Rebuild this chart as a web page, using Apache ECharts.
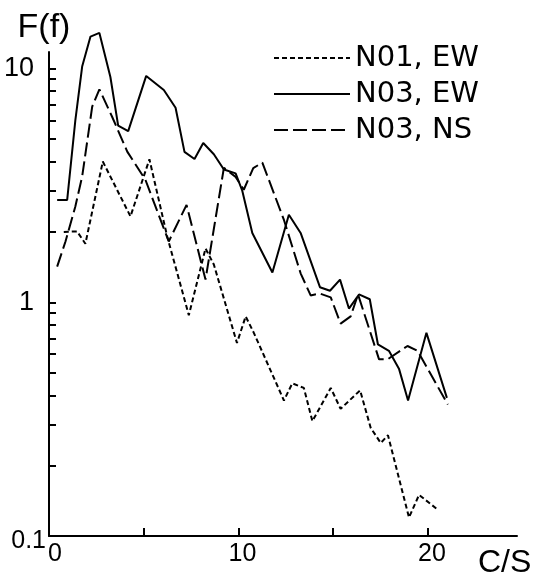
<!DOCTYPE html>
<html><head><meta charset="utf-8">
<script src="https://cdn.jsdelivr.net/npm/echarts@6/dist/echarts.min.js"></script>
<style>html,body{margin:0;padding:0;background:#fff}#c{width:539px;height:573px}</style>
</head><body><div id="c"></div>
<script>
const seriesNames = ['N01, EW', 'N03, EW', 'N03, NS'];
const xName = 'C/S';
const yName = 'F(f)';
const xTickLabels = [0, 10, 20];
const xTickMarks = [5, 10, 15, 20];
const yTickLabels = [0.1, 1, 10];
const yTickMarks = [0.2,0.3,0.4,0.5,0.6,0.7,0.8,0.9,1,2,3,4,5,6,7,8,9,10];

const n01EW = [[0.78,2.0],[1.48,2.01],[1.92,1.78],[2.84,4.0],[4.30,2.33],[5.30,4.09],[6.24,1.91],[7.38,0.88],[8.26,1.70],[8.70,1.45],[9.92,0.67],[10.38,0.87],[10.81,0.74],[12.40,0.38],[12.84,0.45],[13.45,0.43],[13.90,0.31],[14.87,0.43],[15.39,0.35],[16.42,0.42],[16.98,0.29],[17.51,0.25],[17.89,0.27],[19.0,0.12],[19.53,0.15],[20.5,0.13]];
const n03EW = [[0.43,2.74],[0.96,2.74],[1.39,6.0],[1.75,10.2],[2.19,13.7],[2.66,14.2],[3.24,9.2],[3.65,5.7],[4.18,5.4],[5.13,9.3],[6.06,8.1],[6.68,6.8],[7.15,4.4],[7.68,4.1],[8.14,4.8],[8.70,4.3],[9.23,3.7],[9.85,3.56],[10.2,3.0],[10.73,1.98],[11.79,1.34],[12.66,2.37],[13.28,1.98],[14.30,1.16],[14.83,1.12],[15.36,1.25],[15.83,0.94],[16.36,1.08],[16.93,1.03],[17.36,0.66],[17.94,0.62],[18.47,0.52],[18.95,0.38],[19.92,0.74],[21.0,0.39]];
const n03NS = [[0.43,1.42],[0.87,1.82],[1.39,2.57],[1.75,3.45],[2.28,6.87],[2.66,8.15],[3.33,6.22],[4.13,4.41],[5.09,3.34],[6.32,1.82],[7.26,2.61],[8.26,1.25],[9.23,3.76],[9.85,3.44],[10.28,3.03],[10.78,3.75],[11.26,3.96],[12.40,2.25],[13.28,1.33],[13.81,1.07],[14.30,1.09],[14.87,1.05],[15.39,0.81],[15.92,0.87],[16.31,1.08],[17.42,0.57],[17.87,0.57],[18.92,0.65],[19.45,0.62],[21.05,0.365]];

const chart = echarts.init(document.getElementById('c'), null, {renderer: 'canvas'});
const lineBase = {type: 'line', showSymbol: false, symbol: 'none', clip: false, silent: true};
chart.setOption({
  animation: false,
  backgroundColor: '#fff',
  textStyle: {fontFamily: 'Liberation Sans', color: '#000'},
  grid: {left: 49, right: 22, top: 52, bottom: 37, containLabel: false, outerBoundsMode: 'none'},
  legend: {
    orient: 'vertical', left: 268, top: 38,
    itemWidth: 76, itemHeight: 14, itemGap: 6,
    data: seriesNames,
    itemStyle: {opacity: 0, color: 'transparent', borderWidth: 0},
    textStyle: {fontFamily: 'DejaVu Sans', fontSize: 29, color: '#000', lineHeight: 30}
  },
  xAxis: {
    type: 'value', min: 0, max: 24.7,
    name: xName, nameLocation: 'end', nameGap: -39,
    nameTextStyle: {fontSize: 32, fontFamily: 'Liberation Sans', color: '#000', align: 'left', verticalAlign: 'top', padding: [11, 0, 0, 0]},
    axisLine: {lineStyle: {color: '#000', width: 2}},
    splitLine: {show: false},
    axisTick: {inside: true, length: 8, customValues: xTickMarks, lineStyle: {color: '#000', width: 2}},
    axisLabel: {
      customValues: xTickLabels, margin: 6, color: '#000', fontSize: 25,
      formatter: v => v === 0 ? '{z|0}' : '{a|' + v + '}',
      rich: {z: {fontSize: 25, padding: [0, 0, 0, 12]}, a: {fontSize: 25, padding: [0, 0, 0, 8]}}
    }
  },
  yAxis: {
    type: 'log', logBase: 10, min: 0.1, max: 11.77,
    name: yName, nameLocation: 'end', nameGap: 7,
    nameTextStyle: {fontSize: 34, fontFamily: 'Liberation Sans', color: '#000', padding: [0, 10, 0, 0]},
    axisLine: {show: true, lineStyle: {color: '#000', width: 2}},
    splitLine: {show: false},
    axisTick: {show: true, inside: true, length: 7, customValues: yTickMarks, lineStyle: {color: '#000', width: 2}},
    axisLabel: {
      customValues: yTickLabels, margin: 3, color: '#000',
      formatter: v => Math.abs(v - 0.1) < 1e-6 ? '{b|0.1}' : '{a|' + Math.round(v) + '}',
      rich: {a: {fontSize: 27, padding: [0, 12, 0, 0]}, b: {fontSize: 25, padding: [10, 0, 0, 0]}}
    }
  },
  series: [
    Object.assign({}, lineBase, {name: seriesNames[0], data: n01EW, lineStyle: {color: '#000', width: 2, type: [5, 3]}, itemStyle: {color: '#000'}}),
    Object.assign({}, lineBase, {name: seriesNames[1], data: n03EW, lineStyle: {color: '#000', width: 2, type: 'solid'}, itemStyle: {color: '#000'}}),
    Object.assign({}, lineBase, {name: seriesNames[2], data: n03NS, lineStyle: {color: '#000', width: 2, type: [14, 5]}, itemStyle: {color: '#000'}})
  ]
});
</script></body></html>
